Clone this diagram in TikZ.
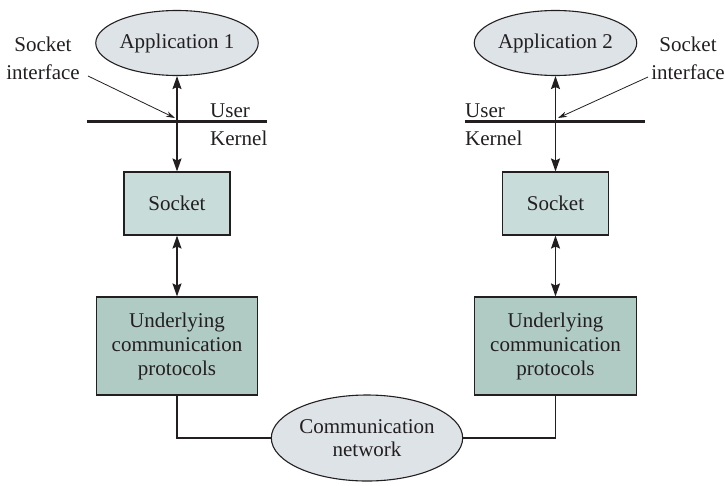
\documentclass[tikz,border=0pt]{standalone}
\usepackage{fontspec}
\setmainfont{Liberation Serif}
\usetikzlibrary{arrows.meta,shapes.geometric}
\definecolor{ink}{HTML}{231F20}
\definecolor{ellfill}{HTML}{DDE3E6}
\definecolor{sockfill}{HTML}{C8DCD9}
\definecolor{protofill}{HTML}{B0CAC4}
\tikzset{
  ell/.style={ellipse, draw=ink, line width=1.1pt, fill=ellfill, inner sep=0pt, text=ink},
  sockbox/.style={rectangle, draw=ink, line width=1.1pt, fill=sockfill, inner sep=0pt, text=ink},
  protobox/.style={rectangle, draw=ink, line width=1.1pt, fill=protofill, inner sep=0pt, text=ink, align=center},
  lbl/.style={inner sep=0pt, text=ink},
  dbl/.style={{Stealth[length=13pt,width=9pt,inset=2pt]}-{Stealth[length=13pt,width=9pt,inset=2pt]}, line width=1.4pt, draw=ink},
  pointer/.style={-{Stealth[length=9pt,width=5.5pt]}, line width=0.8pt, draw=ink},
  wire/.style={line width=1.1pt, draw=ink},
  divider/.style={line width=3pt, draw=ink},
}
\begin{document}
\begin{tikzpicture}[x=1pt,y=-1pt,font=\fontsize{21}{24}\selectfont]
\useasboundingbox (0,0) rectangle (725,485);
% left column
\node[ell, minimum width=148, minimum height=65] (app1) at (177,43) {Application 1};
\node[sockbox, minimum width=106, minimum height=63] (sock1) at (177,203.5) {Socket};
\node[protobox, minimum width=161, minimum height=98] (proto1) at (177,346) {Underlying\\communication\\protocols};
\coordinate (ul1) at (87,121);
\coordinate (ur1) at (267,121);
\draw[divider] (ul1) -- (ur1);
\node[lbl, anchor=base west] (user1) at (210,117) {User};
\node[lbl, anchor=base west] (kern1) at (210,145) {Kernel};
\node[lbl, align=center, font=\fontsize{21}{28}\selectfont] (sif1) at (43,58) {Socket\\interface};
\draw[dbl] (app1.south) -- (sock1.north);
\draw[dbl] (sock1.south) -- (proto1.north);
\coordinate (pt1s) at (88,76);
\coordinate (pt1e) at (175,118);
\draw[pointer] (pt1s) -- (pt1e);
% right column
\node[ell, minimum width=149, minimum height=65] (app2) at (555.5,43) {Application 2};
\node[sockbox, minimum width=106, minimum height=63] (sock2) at (555.5,203.5) {Socket};
\node[protobox, minimum width=162, minimum height=98] (proto2) at (555.5,346) {Underlying\\communication\\protocols};
\coordinate (ul2) at (465,121);
\coordinate (ur2) at (645,121);
\draw[divider] (ul2) -- (ur2);
\node[lbl, anchor=base west] (user2) at (465,117) {User};
\node[lbl, anchor=base west] (kern2) at (465,145) {Kernel};
\node[lbl, align=center, font=\fontsize{21}{28}\selectfont] (sif2) at (688,58) {Socket\\interface};
\draw[dbl] (app2.south) -- (sock2.north);
\draw[dbl] (sock2.south) -- (proto2.north);
\coordinate (pt2s) at (648,77);
\coordinate (pt2e) at (558,118);
\draw[pointer] (pt2s) -- (pt2e);
% network
\node[ell, minimum width=172, minimum height=86, align=center, font=\fontsize{21}{23}\selectfont] (net) at (367,438) {Communication\\network};
\draw[wire] (proto1.south) |- (net.west);
\draw[wire] (proto2.south) |- (net.east);
\end{tikzpicture}
\end{document}
